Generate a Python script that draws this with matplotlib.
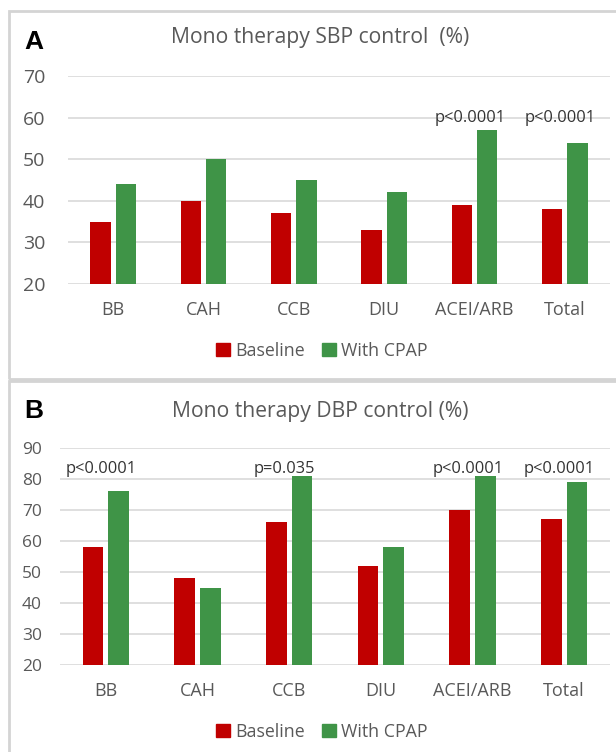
import matplotlib
matplotlib.use("Agg")
import matplotlib.pyplot as plt
import numpy as np
from matplotlib.patches import Patch, Rectangle

# drug classes on the x axis
categories = ["BB", "CAH", "CCB", "DIU", "ACEI/ARB", "Total"]

# systolic control, % of patients
sbp_baseline = [35, 40, 37, 33, 39, 38]
sbp_cpap = [44, 50, 45, 42, 57, 54]
sbp_pvalues = ["", "", "", "", "p<0.0001", "p<0.0001"]

# diastolic control, % of patients
dbp_baseline = [58, 48, 66, 52, 70, 67]
dbp_cpap = [76, 45, 81, 58, 81, 79]
dbp_pvalues = ["p<0.0001", "", "p=0.035", "", "p<0.0001", "p<0.0001"]

RED = "#C00000"
GREEN = "#3F9447"
GRID = "#D9D9D9"
TXT = "#595959"
FONT = ["Open Sans", "DejaVu Sans"]

W, H = 616, 752
fig = plt.figure(figsize=(W / 100, H / 100), dpi=100)
plt.rcParams["font.family"] = FONT


def px_rect(x0, y0, x1, y1):
    """Figure-fraction [left, bottom, width, height] from pixel box (top-left origin)."""
    return [x0 / W, 1 - y1 / H, (x1 - x0) / W, (y1 - y0) / H]


# panel frames (they run past the right/bottom edge of the figure)
for (x0, y0, x1, y1) in [(9, 11, 640, 379), (9, 381, 640, 790)]:
    fig.patches.append(Rectangle((x0 / W, 1 - y1 / H), (x1 - x0) / W, (y1 - y0) / H,
                                 transform=fig.transFigure, fill=False,
                                 edgecolor="#D4D4D4", linewidth=2.0))


def panel(rect, baseline, cpap, pvalues, ylim, yticks, p_y, tick_size, tick_pad,
          letter, letter_y, title, title_y, legend_y):
    ax = fig.add_axes(rect)
    x = np.arange(len(categories))
    width = 0.225
    off = 0.141
    ax.bar(x - off, np.array(baseline) - ylim[0], width=width, bottom=ylim[0],
           color=RED, label="Baseline", zorder=3)
    ax.bar(x + off, np.array(cpap) - ylim[0], width=width, bottom=ylim[0],
           color=GREEN, label="With CPAP", zorder=3)
    for xi, txt in zip(x, pvalues):
        if txt:
            ax.text(xi - 0.05, p_y, txt, ha="center", va="center",
                    fontsize=11.8, color="#333333")
    ax.set_xlim(-0.5, len(categories) - 0.5)
    ax.set_ylim(*ylim)
    ax.set_yticks(yticks)
    ax.set_xticks(x)
    ax.set_xticklabels(categories)
    ax.yaxis.grid(True, color=GRID, linewidth=1.2, zorder=0)
    ax.set_axisbelow(True)
    for s in ax.spines.values():
        s.set_visible(False)
    ax.tick_params(axis="y", length=0, pad=tick_pad, labelsize=tick_size, labelcolor=TXT)
    ax.tick_params(axis="x", length=0, pad=12, labelsize=13, labelcolor=TXT)
    fig.text(24 / W, 1 - letter_y / H, letter, fontsize=19, fontweight="bold",
             family=["Liberation Sans", "DejaVu Sans"], va="center", ha="left")
    fig.text(320 / W, 1 - title_y / H, title, fontsize=15.2, color=TXT,
             ha="center", va="center")
    handles = [Patch(color=RED), Patch(color=GREEN)]
    fig.legend(handles, ["Baseline", "With CPAP"], loc="center",
               bbox_to_anchor=(322 / W, 1 - legend_y / H), ncol=2, frameon=False,
               fontsize=12.8, handlelength=0.75, handleheight=0.75,
               handletextpad=0.3, columnspacing=1.0, labelcolor=TXT)
    return ax


panel(px_rect(68, 76, 610, 284), sbp_baseline, sbp_cpap, sbp_pvalues,
      (20, 70), range(20, 71, 10), 60, 14, 16.5, "A", 42,
      "Mono therapy SBP control  (%)", 38, 351)
panel(px_rect(60, 448, 610, 665), dbp_baseline, dbp_cpap, dbp_pvalues,
      (20, 90), range(20, 91, 10), 83.2, 12.5, 13, "B", 411,
      "Mono therapy DBP control (%)", 411, 732)

fig.savefig("out.png", dpi=100, facecolor="white")
